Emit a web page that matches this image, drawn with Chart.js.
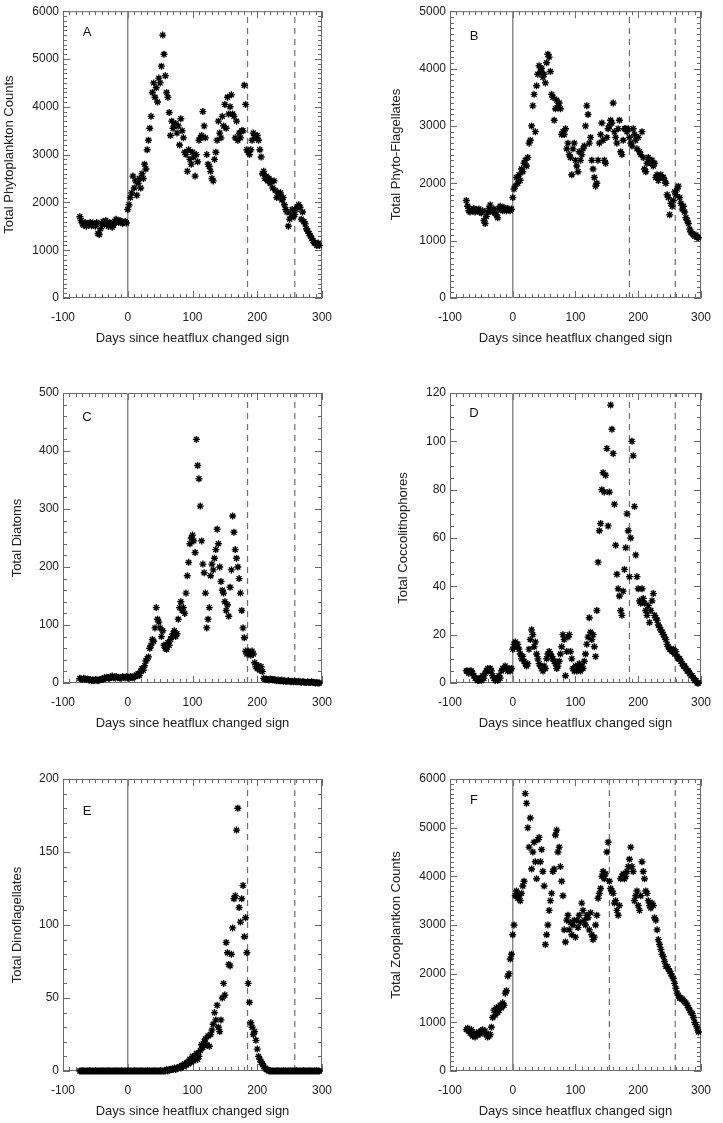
<!DOCTYPE html>
<html>
<head>
<meta charset="utf-8">
<script src="https://cdn.jsdelivr.net/npm/chart.js@4.4.0/dist/chart.umd.min.js"></script>
<style>
html, body { margin: 0; padding: 0; background: #fff; overflow: hidden; }
canvas { position: absolute; }
</style>
</head>
<body>
<canvas id="cA" width="362" height="350" style="left:0px;top:0px"></canvas>
<canvas id="cB" width="361" height="350" style="left:362px;top:0px"></canvas>
<canvas id="cC" width="362" height="365" style="left:0px;top:370px"></canvas>
<canvas id="cD" width="361" height="365" style="left:362px;top:370px"></canvas>
<canvas id="cE" width="362" height="383" style="left:0px;top:740px"></canvas>
<canvas id="cF" width="361" height="383" style="left:362px;top:740px"></canvas>
<script>
// days since heatflux changed sign (every 2nd day)
var days = [
  -74,-72,-70,-68,-66,-64,-62,-60,-58,-56,
  -54,-52,-50,-48,-46,-44,-42,-40,-38,-36,
  -34,-32,-30,-28,-26,-24,-22,-20,-18,-16,
  -14,-12,-10,-8,-6,-4,-2,0,2,4,
  6,8,10,12,14,16,18,20,22,24,
  26,28,30,32,34,36,38,40,42,44,
  46,48,50,52,54,56,58,60,62,64,
  66,68,70,72,74,76,78,80,82,84,
  86,88,90,92,94,96,98,100,102,104,
  106,108,110,112,114,116,118,120,122,124,
  126,128,130,132,134,136,138,140,142,144,
  146,148,150,152,154,156,158,160,162,164,
  166,168,170,172,174,176,178,180,182,184,
  186,188,190,192,194,196,198,200,202,204,
  206,208,210,212,214,216,218,220,222,224,
  226,228,230,232,234,236,238,240,242,244,
  246,248,250,252,254,256,258,260,262,264,
  266,268,270,272,274,276,278,280,282,284,
  286,288,290,292,294,296
];

var phyto = [
  1700,1620,1550,1520,1580,1500,1560,1540,1580,1510,
  1570,1540,1500,1580,1350,1330,1450,1560,1600,1530,
  1620,1550,1500,1580,1560,1480,1520,1600,1650,1600,
  1580,1620,1600,1560,1580,1600,1570,1850,1950,2100,
  2200,2550,2300,2450,2150,2400,2500,2300,2600,2500,
  2800,2700,3100,3300,3550,3800,4300,4500,4200,4400,
  4100,4600,4500,4850,5500,5100,4650,4300,4200,3880,
  3400,3700,3550,3600,3650,3450,3600,3200,3750,3500,
  3350,3050,3000,2650,3100,2900,2800,3050,2950,2550,
  3000,2850,3300,3350,3400,3900,3600,3350,3000,2800,
  2750,2650,2500,2450,2900,3050,3300,3700,3450,3350,
  3800,3600,4050,3550,4200,3850,4000,4250,3850,3800,
  3350,3700,3300,3450,3350,3500,3500,4450,4050,3100,
  3050,3000,3100,3300,3450,3400,3350,3400,3300,3100,
  2950,2600,2650,2500,2550,2450,2500,2400,2450,2300,
  2450,2250,2100,2200,2150,2200,2050,2100,1950,1850,
  1800,1500,1650,1750,1850,1700,1750,1850,1900,1950,
  1900,1650,1800,1600,1550,1450,1400,1350,1300,1250,
  1200,1150,1150,1100,1150,1100
];

var flagellates = [
  1700,1600,1520,1500,1540,1520,1560,1500,1540,1520,
  1550,1500,1480,1520,1350,1300,1420,1500,1560,1620,
  1520,1500,1550,1480,1450,1400,1560,1600,1540,1520,
  1580,1550,1520,1560,1540,1520,1550,1750,1900,1950,
  2100,2000,2150,2050,2250,2200,2350,2400,2300,2450,
  2700,2750,3000,3350,3550,2900,3700,3900,4050,3950,
  4000,3850,3900,3750,4100,4250,4200,3950,3550,3500,
  3100,3300,3450,3350,3400,3300,2850,2900,2850,2950,
  2600,2700,2500,2450,2150,2600,2700,2400,2300,2200,
  2550,2400,2500,2600,2650,3000,3350,3200,2700,2800,
  2400,2250,2100,1950,2000,2400,2700,2850,3050,2750,
  2400,2350,2800,2950,3000,3100,3050,3400,2900,2800,
  2700,2950,3100,2550,2500,2750,2950,2950,2900,2950,
  2800,2700,2650,2950,2850,2750,2600,2800,2550,2500,
  2900,2450,2250,2200,2350,2450,2400,2350,2400,2300,
  2350,2100,2150,2050,2100,2150,2100,2100,2050,2000,
  1800,1750,1450,1650,1600,1700,1850,1800,1900,1950,
  1750,1650,1550,1600,1500,1400,1350,1300,1200,1150,
  1120,1100,1080,1100,1060,1050
];

var diatoms = [
  8,7,6,8,7,6,7,5,6,4,
  5,4,6,5,4,5,6,7,6,9,
  8,10,9,8,10,12,9,10,11,9,
  10,8,9,11,10,9,11,10,8,11,
  10,9,12,11,14,16,13,20,25,22,
  30,38,42,45,60,65,75,72,95,130,
  110,105,95,80,90,65,60,58,70,65,
  75,80,85,90,80,85,110,130,140,125,
  130,120,155,185,208,240,250,255,245,225,
  420,375,352,305,245,205,190,155,95,110,
  130,185,205,195,215,230,265,240,200,175,
  160,155,140,125,135,115,165,195,288,260,
  230,215,200,180,155,125,95,78,55,50,
  55,52,48,55,50,35,28,25,30,22,
  28,20,8,6,7,6,5,7,6,5,
  6,5,4,5,4,4,5,3,4,3,
  3,4,3,2,3,2,3,2,2,3,
  2,1,2,2,1,1,2,1,1,2,
  1,1,0,1,0,0
];

var cocco = [
  5,5,4,5,5,4,3,2,2,1,
  1,2,1,3,2,4,5,6,5,6,
  5,3,2,1,2,1,3,2,5,6,
  6,7,6,5,6,5,6,14,16,17,
  15,16,14,12,10,11,9,8,7,8,
  14,18,22,20,15,17,12,10,8,7,
  6,5,7,6,10,12,13,12,11,10,
  9,8,6,7,9,12,15,20,18,3,
  13,19,20,13,10,6,5,7,5,6,
  8,5,7,6,9,12,16,19,27,21,
  18,20,15,11,30,50,63,66,80,87,
  79,86,97,65,79,115,105,95,74,57,
  45,39,36,30,28,38,47,56,70,63,
  44,60,100,94,73,53,44,39,34,33,
  39,35,33,30,28,32,25,30,34,37,
  28,27,26,24,23,22,21,20,19,18,
  16,15,14,14,13,14,12,13,11,10,
  10,9,8,7,7,6,5,5,4,3,
  3,2,1,1,0,0
];

var dino = [
  0,0,0,0,0,0,0,0,0,0,
  0,0,0,0,0,0,0,0,0,0,
  0,0,0,0,0,0,0,0,0,0,
  0,0,0,0,0,0,0,0,0,0,
  0,0,0,0,0,0,0,0,0,0,
  0,0,0,0,0,0,0,0,0,0,
  0,0,0,0,0,0,0,1,0,1,
  1,1,1,2,1,2,2,3,2,4,
  3,5,4,6,5,8,6,10,7,9,
  12,8,10,14,18,16,20,22,18,24,
  17,25,28,32,40,35,45,30,27,35,
  50,60,52,88,81,73,72,80,98,118,
  120,165,180,112,102,118,127,92,105,81,
  60,47,33,30,25,27,21,15,10,8,
  6,5,3,2,1,1,0,0,0,0,
  0,0,0,0,0,0,0,0,0,0,
  0,0,0,0,0,0,0,0,0,0,
  0,0,0,0,0,0,0,0,0,0,
  0,0,0,0,0,0
];

var zoo = [
  850,880,820,780,850,720,760,700,780,740,
  800,760,820,850,780,820,760,700,720,750,
  900,1100,1250,1150,1300,1200,1250,1350,1300,1400,
  1350,1600,1650,1950,2000,2300,2400,2800,3000,3600,
  3700,3550,3600,3500,3650,3800,3900,5700,5500,5000,
  4600,5200,4150,4500,4700,4300,3950,4750,4800,4300,
  4550,4100,3800,2600,2800,3000,3300,3500,3650,4100,
  4150,4850,4950,4500,4600,4200,3900,3600,2900,2650,
  3100,3200,2900,3050,2800,3000,3100,2750,3100,2950,
  3200,3050,3450,3300,3100,3000,3200,3150,2900,3250,
  2800,2700,2750,3000,3200,3550,3650,3750,4000,4100,
  3950,4050,4500,4700,3900,3750,3700,3650,3450,3500,
  3300,3200,3400,3950,4000,4050,3950,4000,4100,4200,
  4350,4600,4200,4100,3500,3600,3700,3400,3300,3600,
  4300,4100,3950,3700,3650,3500,3400,3350,3450,3400,
  3150,3100,2900,2700,2600,2500,2400,2350,2250,2150,
  2150,2100,2050,2000,1950,1900,1800,1700,1600,1550,
  1500,1500,1480,1450,1420,1400,1350,1300,1250,1200,
  1180,1100,1000,950,880,800
];

var xTicks = [-100, 0, 100, 200, 300];

var panels = [
  { id: 'cA', letter: 'A', title: 'Total Phytoplankton Counts', values: phyto,
    yMax: 6000, yStep: 1000, yMinor: 100, lines: [0, 185, 258],
    axisW: 63, padTop: 5, padRight: 40, titlePad: 2, letterDy: 21 },
  { id: 'cB', letter: 'B', title: 'Total Phyto-Flagellates', values: flagellates,
    yMax: 5000, yStep: 1000, yMinor: 100, lines: [0, 186, 259],
    axisW: 88, padTop: 5, padRight: 15, titlePad: 27, letterDy: 25 },
  { id: 'cC', letter: 'C', title: 'Total Diatoms', values: diatoms,
    yMax: 500, yStep: 100, yMinor: 20, lines: [0, 185, 258],
    axisW: 63, padTop: 23, padRight: 40, titlePad: 10, letterDy: 24 },
  { id: 'cD', letter: 'D', title: 'Total Coccolithophores', values: cocco,
    yMax: 120, yStep: 20, yMinor: 5, lines: [0, 186, 259],
    axisW: 88, padTop: 23, padRight: 15, titlePad: 34, letterDy: 20 },
  { id: 'cE', letter: 'E', title: 'Total Dinoflagellates', values: dino,
    yMax: 200, yStep: 50, yMinor: 10, lines: [0, 185, 258],
    axisW: 63, padTop: 39, padRight: 40, titlePad: 10, letterDy: 32 },
  { id: 'cF', letter: 'F', title: 'Total Zooplantkon Counts', values: zoo,
    yMax: 6000, yStep: 1000, yMinor: 100, lines: [0, 154, 259],
    axisW: 88, padTop: 39, padRight: 15, titlePad: 27, letterDy: 21 }
];

Chart.defaults.font.family = '"Liberation Sans", Arial, Helvetica, sans-serif';
Chart.defaults.color = '#222';

// IDL style box with inward major/minor ticks on all four sides + panel letter
var framePlugin = {
    id: 'frame',
    beforeDatasetsDraw: function (chart) {
        var o = chart.options.plugins.frame;
        var ctx = chart.ctx, a = chart.chartArea;
        var sx = chart.scales.x, sy = chart.scales.y;
        var v, p, len;
        ctx.save();
        ctx.strokeStyle = '#6a6a6a';
        ctx.lineWidth = 1;
        ctx.beginPath();
        ctx.rect(a.left + 0.5, a.top + 0.5, a.right - a.left - 1, a.bottom - a.top - 1);
        for (v = xTicks[0]; v <= xTicks[xTicks.length - 1]; v += 10) {
            p = Math.round(sx.getPixelForValue(v)) + 0.5;
            len = (v % 100 === 0) ? 7 : 4;
            ctx.moveTo(p, a.bottom); ctx.lineTo(p, a.bottom - len);
            ctx.moveTo(p, a.top); ctx.lineTo(p, a.top + len);
        }
        for (v = 0; v <= o.yMax; v += o.yMinor) {
            p = Math.round(sy.getPixelForValue(v)) + 0.5;
            len = (v % o.yStep === 0) ? 7 : 4;
            ctx.moveTo(a.left, p); ctx.lineTo(a.left + len, p);
            ctx.moveTo(a.right, p); ctx.lineTo(a.right - len, p);
        }
        ctx.stroke();
        ctx.fillStyle = '#111';
        ctx.font = '13px "Liberation Sans", Arial, sans-serif';
        ctx.textAlign = 'center';
        ctx.textBaseline = 'middle';
        ctx.fillText(o.letter, a.left + 24, a.top + o.letterDy);
        ctx.restore();
    }
};

function plainTick(value) {
    return String(value);
}

panels.forEach(function (pn) {
    var pts = [];
    for (var i = 0; i < days.length; i++) {
        pts.push({ x: days[i], y: pn.values[i] });
    }
    var datasets = [{
        data: pts,
        pointStyle: 'star',
        pointRadius: 3.5,
        borderColor: '#000',
        backgroundColor: '#000',
        borderWidth: 1.4,
        clip: 6,
        order: 1
    }];
    pn.lines.forEach(function (d, k) {
        datasets.push({
            data: [{ x: d, y: 0 }, { x: d, y: pn.yMax }],
            showLine: true,
            pointRadius: 0,
            borderColor: k === 0 ? '#8c8c8c' : '#6e6e6e',
            borderWidth: k === 0 ? 1.5 : 1.2,
            borderDash: k === 0 ? [] : [6, 5],
            order: 2
        });
    });

    new Chart(document.getElementById(pn.id), {
        type: 'scatter',
        data: { datasets: datasets },
        options: {
            responsive: false,
            animation: false,
            events: [],
            layout: { padding: { top: pn.padTop, right: pn.padRight, left: 0, bottom: 0 } },
            plugins: {
                legend: { display: false },
                tooltip: { enabled: false },
                frame: { letter: pn.letter, yMax: pn.yMax, yStep: pn.yStep, yMinor: pn.yMinor, letterDy: pn.letterDy }
            },
            scales: {
                x: {
                    type: 'linear',
                    min: xTicks[0],
                    max: xTicks[xTicks.length - 1],
                    grid: { display: false, drawTicks: false },
                    border: { display: false },
                    ticks: { stepSize: 100, padding: 12, color: '#222', font: { size: 12 }, callback: plainTick },
                    title: { display: true, text: 'Days since heatflux changed sign', color: '#222',
                             font: { size: 13 }, padding: { top: 0, bottom: 4 } },
                    afterFit: function (s) { s.height = 52; }
                },
                y: {
                    min: 0,
                    max: pn.yMax,
                    grid: { display: false, drawTicks: false },
                    border: { display: false },
                    ticks: { stepSize: pn.yStep, padding: 4, color: '#222', font: { size: 12 }, callback: plainTick },
                    title: { display: true, text: pn.title, color: '#222',
                             font: { size: 13 }, padding: { top: pn.titlePad, bottom: 0 } },
                    afterFit: function (s) { s.width = pn.axisW; }
                }
            }
        },
        plugins: [framePlugin]
    });
});
</script>
</body>
</html>
